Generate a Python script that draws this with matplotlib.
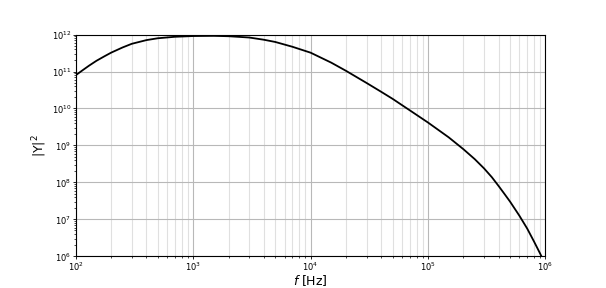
import numpy as np
import matplotlib.pyplot as plt
from matplotlib.ticker import NullFormatter

# frequency [Hz] and log10(|Y|^2)
freq = [100, 115, 130, 150, 175, 200, 250, 300, 400, 500, 700, 1000, 1500,
        2000, 3000, 4000, 5000, 7000, 10000, 15000, 20000, 30000, 40000,
        50000, 70000, 100000, 150000, 200000, 250000, 300000, 350000,
        400000, 450000, 500000, 600000, 700000, 800000, 900000, 1000000]
log_y2 = [10.90, 11.04, 11.16, 11.29, 11.41, 11.51, 11.65, 11.75, 11.85,
          11.90, 11.94, 11.96, 11.965, 11.955, 11.92, 11.86, 11.80, 11.67,
          11.51, 11.24, 11.02, 10.69, 10.45, 10.26, 9.95, 9.62, 9.22, 8.90,
          8.63, 8.38, 8.14, 7.90, 7.68, 7.48, 7.10, 6.75, 6.40, 6.08, 5.78]

y2 = 10.0 ** np.array(log_y2)

fig = plt.figure(figsize=(6.06, 2.88), dpi=100)
ax = fig.add_subplot(111)

ax.plot(freq, y2, color='black', lw=1.3)
ax.set_xscale('log')
ax.set_yscale('log')
ax.set_xlim(1e2, 1e6)
ax.set_ylim(1e6, 1e12)
ax.xaxis.set_minor_formatter(NullFormatter())
ax.yaxis.set_minor_formatter(NullFormatter())

ax.grid(which='major', color='0.72', lw=0.8)
ax.grid(which='minor', axis='x', color='0.88', lw=0.8)
ax.set_axisbelow(True)

for s in ax.spines.values():
    s.set_linewidth(0.8)
ax.tick_params(which='major', labelsize=6, length=2.2, width=0.6, pad=1.0)
ax.tick_params(which='minor', length=1.2, width=0.5)
ax.set_xlabel('$f$ [Hz]', fontsize=9, labelpad=0)
ax.set_ylabel('|Y|$^2$', fontsize=9, labelpad=2)

fig.savefig('out.png', dpi=100)
